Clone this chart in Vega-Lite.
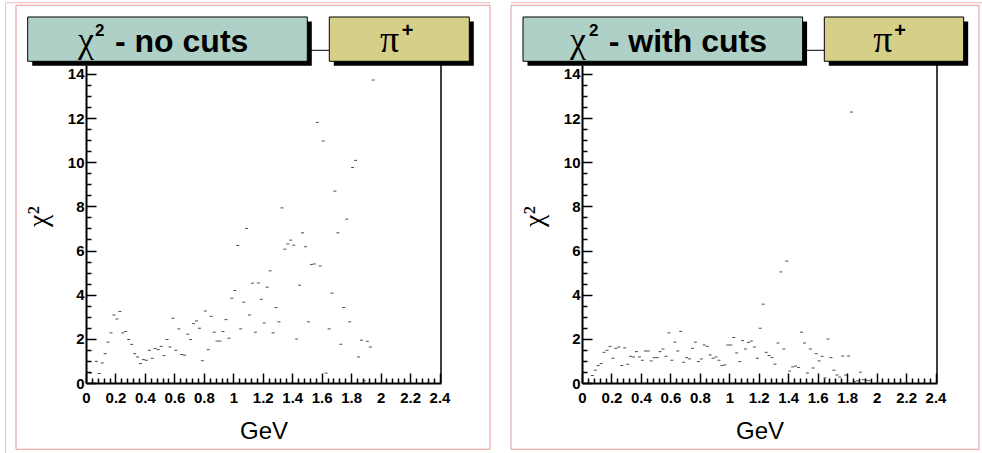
{
  "$schema": "https://vega.github.io/schema/vega-lite/v6.json",
  "background": "white",
  "padding": {"left": 5, "top": 2, "right": 0, "bottom": 0},
  "spacing": 19,
  "config": {
    "view": {"stroke": null},
    "axis": {"labelFont": "Liberation Sans", "labelFontWeight": "bold", "labelFontSize": 15, "labelColor": "#000", "domainColor": "#000", "domainWidth": 2, "tickColor": "#000", "tickWidth": 1.5, "grid": false, "labelOverlap": false, "labelFlush": false, "titleFont": "Liberation Sans", "titleFontWeight": "normal", "titleColor": "#000"},
    "tick": {"color": "#000", "size": 3, "thickness": 1, "orient": "horizontal"}
  },
  "datasets": {
    "nocuts": [
      {"x":0.03,"chi2":0.45},{"x":0.07,"chi2":0.98},{"x":0.09,"chi2":0.43},{"x":0.11,"chi2":0.91},{"x":0.13,"chi2":1.33},{"x":0.15,"chi2":1.85},{"x":0.17,"chi2":2.27},{"x":0.19,"chi2":3.08},{"x":0.21,"chi2":2.90},{"x":0.23,"chi2":3.24},{"x":0.25,"chi2":2.27},{"x":0.27,"chi2":2.33},{"x":0.29,"chi2":1.97},{"x":0.31,"chi2":1.75},{"x":0.33,"chi2":1.33},{"x":0.35,"chi2":1.18},{"x":0.37,"chi2":0.88},{"x":0.39,"chi2":1.06},{"x":0.41,"chi2":1.03},{"x":0.43,"chi2":1.48},{"x":0.45,"chi2":1.12},{"x":0.47,"chi2":1.56},{"x":0.49,"chi2":1.51},{"x":0.51,"chi2":1.66},{"x":0.53,"chi2":1.24},{"x":0.55,"chi2":1.97},{"x":0.57,"chi2":1.63},{"x":0.59,"chi2":2.93},{"x":0.61,"chi2":1.48},{"x":0.63,"chi2":2.45},{"x":0.65,"chi2":1.29},{"x":0.67,"chi2":1.26},{"x":0.69,"chi2":2.21},{"x":0.71,"chi2":1.97},{"x":0.73,"chi2":2.69},{"x":0.75,"chi2":2.81},{"x":0.77,"chi2":2.48},{"x":0.79,"chi2":1.01},{"x":0.81,"chi2":3.26},{"x":0.83,"chi2":1.51},{"x":0.85,"chi2":3.02},{"x":0.87,"chi2":2.30},{"x":0.89,"chi2":1.90},{"x":0.91,"chi2":1.90},{"x":0.93,"chi2":2.33},{"x":0.95,"chi2":2.87},{"x":0.97,"chi2":2.03},{"x":0.99,"chi2":3.84},{"x":1.01,"chi2":4.19},{"x":1.03,"chi2":6.23},{"x":1.05,"chi2":2.45},{"x":1.07,"chi2":3.66},{"x":1.09,"chi2":7.00},{"x":1.11,"chi2":3.08},{"x":1.13,"chi2":4.52},{"x":1.15,"chi2":2.30},{"x":1.17,"chi2":4.53},{"x":1.19,"chi2":3.79},{"x":1.21,"chi2":2.72},{"x":1.23,"chi2":4.34},{"x":1.25,"chi2":5.08},{"x":1.27,"chi2":2.27},{"x":1.29,"chi2":3.42},{"x":1.31,"chi2":2.77},{"x":1.33,"chi2":7.93},{"x":1.35,"chi2":6.06},{"x":1.37,"chi2":6.30},{"x":1.39,"chi2":6.47},{"x":1.41,"chi2":6.24},{"x":1.43,"chi2":1.99},{"x":1.45,"chi2":4.43},{"x":1.47,"chi2":6.80},{"x":1.49,"chi2":6.17},{"x":1.51,"chi2":2.77},{"x":1.53,"chi2":5.37},{"x":1.55,"chi2":5.39},{"x":1.57,"chi2":11.80},{"x":1.59,"chi2":5.30},{"x":1.61,"chi2":10.96},{"x":1.63,"chi2":0.45},{"x":1.65,"chi2":2.45},{"x":1.67,"chi2":4.07},{"x":1.69,"chi2":8.69},{"x":1.71,"chi2":6.80},{"x":1.73,"chi2":1.75},{"x":1.75,"chi2":3.42},{"x":1.77,"chi2":7.42},{"x":1.79,"chi2":2.77},{"x":1.81,"chi2":9.76},{"x":1.83,"chi2":10.08},{"x":1.85,"chi2":1.18},{"x":1.87,"chi2":1.94},{"x":1.89,"chi2":0.10},{"x":1.91,"chi2":1.89},{"x":1.93,"chi2":1.63},{"x":1.95,"chi2":13.72}
    ],
    "withcuts": [
      {"x":0.07,"chi2":0.34},{"x":0.09,"chi2":0.58},{"x":0.11,"chi2":0.79},{"x":0.13,"chi2":0.88},{"x":0.15,"chi2":1.39},{"x":0.17,"chi2":1.48},{"x":0.19,"chi2":1.66},{"x":0.21,"chi2":1.12},{"x":0.23,"chi2":1.57},{"x":0.25,"chi2":1.63},{"x":0.27,"chi2":0.79},{"x":0.29,"chi2":1.59},{"x":0.31,"chi2":0.85},{"x":0.33,"chi2":1.21},{"x":0.35,"chi2":1.18},{"x":0.37,"chi2":1.42},{"x":0.39,"chi2":1.18},{"x":0.41,"chi2":1.03},{"x":0.43,"chi2":1.45},{"x":0.45,"chi2":1.45},{"x":0.47,"chi2":1.00},{"x":0.49,"chi2":1.15},{"x":0.51,"chi2":1.15},{"x":0.53,"chi2":1.42},{"x":0.55,"chi2":1.54},{"x":0.57,"chi2":1.21},{"x":0.59,"chi2":2.27},{"x":0.61,"chi2":1.03},{"x":0.63,"chi2":1.85},{"x":0.65,"chi2":1.45},{"x":0.67,"chi2":2.34},{"x":0.69,"chi2":0.94},{"x":0.71,"chi2":1.15},{"x":0.73,"chi2":1.09},{"x":0.75,"chi2":1.57},{"x":0.77,"chi2":1.85},{"x":0.79,"chi2":0.97},{"x":0.81,"chi2":1.09},{"x":0.83,"chi2":1.72},{"x":0.85,"chi2":1.66},{"x":0.87,"chi2":1.27},{"x":0.89,"chi2":1.12},{"x":0.91,"chi2":1.18},{"x":0.93,"chi2":1.03},{"x":0.95,"chi2":0.79},{"x":0.97,"chi2":0.82},{"x":0.99,"chi2":1.72},{"x":1.01,"chi2":1.72},{"x":1.03,"chi2":2.06},{"x":1.05,"chi2":1.36},{"x":1.07,"chi2":0.97},{"x":1.09,"chi2":1.92},{"x":1.11,"chi2":1.54},{"x":1.13,"chi2":1.84},{"x":1.15,"chi2":1.90},{"x":1.17,"chi2":1.63},{"x":1.19,"chi2":1.12},{"x":1.21,"chi2":2.48},{"x":1.23,"chi2":3.57},{"x":1.25,"chi2":1.39},{"x":1.27,"chi2":1.24},{"x":1.29,"chi2":1.15},{"x":1.31,"chi2":0.85},{"x":1.33,"chi2":1.81},{"x":1.35,"chi2":5.03},{"x":1.37,"chi2":1.54},{"x":1.39,"chi2":5.52},{"x":1.41,"chi2":0.54},{"x":1.43,"chi2":0.73},{"x":1.45,"chi2":0.77},{"x":1.47,"chi2":0.70},{"x":1.49,"chi2":2.30},{"x":1.51,"chi2":1.81},{"x":1.53,"chi2":0.45},{"x":1.55,"chi2":1.54},{"x":1.57,"chi2":0.68},{"x":1.59,"chi2":1.33},{"x":1.61,"chi2":1.00},{"x":1.63,"chi2":1.21},{"x":1.65,"chi2":0.23},{"x":1.67,"chi2":1.99},{"x":1.69,"chi2":1.15},{"x":1.71,"chi2":0.58},{"x":1.73,"chi2":0.36},{"x":1.75,"chi2":0.27},{"x":1.77,"chi2":1.22},{"x":1.79,"chi2":0.36},{"x":1.81,"chi2":1.22},{"x":1.83,"chi2":12.27},{"x":1.85,"chi2":0.06},{"x":1.87,"chi2":0.10},{"x":1.89,"chi2":0.49},{"x":1.91,"chi2":0.15},{"x":1.93,"chi2":0.12},{"x":1.95,"chi2":0.11}
    ]
  },
  "hconcat": [
    {
      "width": 355, "height": 318,
      "resolve": {"axis": {"x": "independent", "y": "independent"}},
      "layer": [
        {"data": {"values": [{}]}, "mark": {"type": "rule", "color": "#ecbcbc", "strokeWidth": 1},
         "encoding": {"x": {"datum": -0.5458, "type": "quantitative", "scale": {"domain": [0, 2.41], "nice": false, "zero": false}, "axis": null}, "y": {"datum": 17.22, "type": "quantitative", "scale": {"domain": [0, 14.4], "nice": false, "zero": false}, "axis": null}, "y2": {"datum": -3.17}}},
        {"data": {"values": [{}]}, "mark": {"type": "rule", "color": "#ecbcbc", "strokeWidth": 1},
         "encoding": {"x": {"datum": -0.5458, "type": "quantitative", "scale": {"domain": [0, 2.41], "nice": false, "zero": false}, "axis": null}, "x2": {"datum": 2.7427}, "y": {"datum": 17.22, "type": "quantitative", "scale": {"domain": [0, 14.4], "nice": false, "zero": false}, "axis": null}}},
        {"data": {"values": [{}]}, "mark": {"type": "rect", "filled": false, "stroke": "#e39a9a", "strokeWidth": 1},
         "encoding": {
           "x": {"datum": -0.4752, "type": "quantitative", "scale": {"domain": [0, 2.41], "nice": false, "zero": false},
                 "axis": {"orient": "bottom", "values": [0.04,0.08,0.12,0.16,0.24,0.28,0.32,0.36,0.44,0.48,0.52,0.56,0.64,0.68,0.72,0.76,0.84,0.88,0.92,0.96,1.04,1.08,1.12,1.16,1.24,1.28,1.32,1.36,1.44,1.48,1.52,1.56,1.64,1.68,1.72,1.76,1.84,1.88,1.92,1.96,2.04,2.08,2.12,2.16,2.24,2.28,2.32,2.36], "tickSize": -5, "labels": false, "domain": false, "title": null}},
           "x2": {"datum": 2.7427},
           "y": {"datum": 17.104, "type": "quantitative", "scale": {"domain": [0, 14.4], "nice": false, "zero": false},
                 "axis": {"orient": "left", "values": [0.5,1,1.5,2.5,3,3.5,4.5,5,5.5,6.5,7,7.5,8.5,9,9.5,10.5,11,11.5,12.5,13,13.5], "tickSize": -5, "labels": false, "domain": false, "title": null}},
           "y2": {"datum": -3.002}}},
        {"data": {"values": [{}]}, "mark": {"type": "rect", "fill": "#000"},
         "encoding": {"x": {"datum": -0.3652, "type": "quantitative", "scale": {"domain": [0, 2.41], "nice": false, "zero": false}, "axis": null}, "x2": {"datum": 1.5329}, "y": {"datum": 16.37, "type": "quantitative", "scale": {"domain": [0, 14.4], "nice": false, "zero": false}, "axis": null}, "y2": {"datum": 14.364}}},
        {"data": {"values": [{}]}, "mark": {"type": "rect", "fill": "#000"},
         "encoding": {"x": {"datum": 1.6823, "type": "quantitative", "scale": {"domain": [0, 2.41], "nice": false, "zero": false}, "axis": null}, "x2": {"datum": 2.6327}, "y": {"datum": 16.37, "type": "quantitative", "scale": {"domain": [0, 14.4], "nice": false, "zero": false}, "axis": null}, "y2": {"datum": 14.364}}},
        {"data": {"values": [{}]}, "mark": {"type": "rule", "color": "#000", "strokeWidth": 1.5},
         "encoding": {"x": {"datum": 2.41, "type": "quantitative", "scale": {"domain": [0, 2.41], "nice": false, "zero": false}, "axis": null}, "y": {"datum": 0, "type": "quantitative", "scale": {"domain": [0, 14.4], "nice": false, "zero": false}, "axis": null}, "y2": {"datum": 14.568}}},
        {"data": {"values": [{}]}, "mark": {"type": "rule", "color": "#000", "strokeWidth": 1},
         "encoding": {"x": {"datum": 1.5024, "type": "quantitative", "scale": {"domain": [0, 2.41], "nice": false, "zero": false}, "axis": null}, "x2": {"datum": 1.6517}, "y": {"datum": 15.066, "type": "quantitative", "scale": {"domain": [0, 14.4], "nice": false, "zero": false}, "axis": null}}},
        {"data": {"values": [{}]}, "mark": {"type": "rect", "fill": "#afd0c6", "stroke": "#000", "strokeWidth": 1},
         "encoding": {"x": {"datum": -0.3958, "type": "quantitative", "scale": {"domain": [0, 2.41], "nice": false, "zero": false}, "axis": null}, "x2": {"datum": 1.5024}, "y": {"datum": 16.574, "type": "quantitative", "scale": {"domain": [0, 14.4], "nice": false, "zero": false}, "axis": null}, "y2": {"datum": 14.568}}},
        {"data": {"values": [{}]}, "mark": {"type": "rect", "fill": "#d6cf88", "stroke": "#000", "strokeWidth": 1},
         "encoding": {"x": {"datum": 1.6517, "type": "quantitative", "scale": {"domain": [0, 2.41], "nice": false, "zero": false}, "axis": null}, "x2": {"datum": 2.6021}, "y": {"datum": 16.574, "type": "quantitative", "scale": {"domain": [0, 14.4], "nice": false, "zero": false}, "axis": null}, "y2": {"datum": 14.568}}},
        {"data": {"values": [{}]}, "mark": {"type": "text", "text": "χ", "font": "Liberation Serif", "fontSize": 36, "align": "left", "baseline": "alphabetic", "color": "#000"},
         "encoding": {"x": {"datum": -0.0543, "type": "quantitative", "scale": {"domain": [0, 2.41], "nice": false, "zero": false}, "axis": null}, "y": {"datum": 14.976, "type": "quantitative", "scale": {"domain": [0, 14.4], "nice": false, "zero": false}, "axis": null}}},
        {"data": {"values": [{}]}, "mark": {"type": "text", "text": "2", "font": "Liberation Sans", "fontWeight": "bold", "fontSize": 17, "align": "left", "baseline": "alphabetic", "color": "#000"},
         "encoding": {"x": {"datum": 0.0611, "type": "quantitative", "scale": {"domain": [0, 2.41], "nice": false, "zero": false}, "axis": null}, "y": {"datum": 15.70, "type": "quantitative", "scale": {"domain": [0, 14.4], "nice": false, "zero": false}, "axis": null}}},
        {"data": {"values": [{}]}, "mark": {"type": "text", "text": "- no cuts", "font": "Liberation Sans", "fontWeight": "bold", "fontSize": 32, "align": "left", "baseline": "alphabetic", "color": "#000"},
         "encoding": {"x": {"datum": 0.1969, "type": "quantitative", "scale": {"domain": [0, 2.41], "nice": false, "zero": false}, "axis": null}, "y": {"datum": 14.989, "type": "quantitative", "scale": {"domain": [0, 14.4], "nice": false, "zero": false}, "axis": null}}},
        {"data": {"values": [{}]}, "mark": {"type": "text", "text": "π", "font": "Liberation Serif", "fontSize": 38, "align": "left", "baseline": "alphabetic", "color": "#000"},
         "encoding": {"x": {"datum": 1.9959, "type": "quantitative", "scale": {"domain": [0, 2.41], "nice": false, "zero": false}, "axis": null}, "y": {"datum": 14.989, "type": "quantitative", "scale": {"domain": [0, 14.4], "nice": false, "zero": false}, "axis": null}}},
        {"data": {"values": [{}]}, "mark": {"type": "text", "text": "+", "font": "Liberation Sans", "fontWeight": "bold", "fontSize": 20, "align": "left", "baseline": "alphabetic", "color": "#000"},
         "encoding": {"x": {"datum": 2.1432, "type": "quantitative", "scale": {"domain": [0, 2.41], "nice": false, "zero": false}, "axis": null}, "y": {"datum": 15.655, "type": "quantitative", "scale": {"domain": [0, 14.4], "nice": false, "zero": false}, "axis": null}}},
        {"data": {"name": "nocuts"}, "mark": {"type": "tick"},
         "encoding": {
           "x": {"field": "x", "type": "quantitative", "scale": {"domain": [0, 2.41], "nice": false, "zero": false},
                 "axis": {"orient": "bottom", "values": [0,0.2,0.4,0.6,0.8,1,1.2,1.4,1.6,1.8,2,2.2,2.4], "tickSize": -10, "labelPadding": 17, "labelExpr": "format(datum.value, '~g')", "title": "GeV", "titleFontSize": 24, "titleY": 55, "titleBaseline": "alphabetic"}},
           "y": {"field": "chi2", "type": "quantitative", "scale": {"domain": [0, 14.4], "nice": false, "zero": false},
                 "axis": {"orient": "left", "values": [0,2,4,6,8,10,12,14], "tickSize": -10, "labelPadding": 12, "labelExpr": "format(datum.value, '~g')", "title": "χ²", "titleFont": "Liberation Serif", "titleFontSize": 28, "titleAngle": 270, "titleX": -40, "titleY": 151, "titleBaseline": "alphabetic", "titleAlign": "center"}}}}
      ]
    },
    {
      "width": 355, "height": 318,
      "resolve": {"axis": {"x": "independent", "y": "independent"}},
      "layer": [
        {"data": {"values": [{}]}, "mark": {"type": "rule", "color": "#ecbcbc", "strokeWidth": 1},
         "encoding": {"x": {"datum": -0.482, "type": "quantitative", "scale": {"domain": [0, 2.41], "nice": false, "zero": false}, "axis": null}, "x2": {"datum": 2.716}, "y": {"datum": 17.22, "type": "quantitative", "scale": {"domain": [0, 14.4], "nice": false, "zero": false}, "axis": null}}},
        {"data": {"values": [{}]}, "mark": {"type": "rect", "filled": false, "stroke": "#e39a9a", "strokeWidth": 1},
         "encoding": {
           "x": {"datum": -0.482, "type": "quantitative", "scale": {"domain": [0, 2.41], "nice": false, "zero": false},
                 "axis": {"orient": "bottom", "values": [0.04,0.08,0.12,0.16,0.24,0.28,0.32,0.36,0.44,0.48,0.52,0.56,0.64,0.68,0.72,0.76,0.84,0.88,0.92,0.96,1.04,1.08,1.12,1.16,1.24,1.28,1.32,1.36,1.44,1.48,1.52,1.56,1.64,1.68,1.72,1.76,1.84,1.88,1.92,1.96,2.04,2.08,2.12,2.16,2.24,2.28,2.32,2.36], "tickSize": -5, "labels": false, "domain": false, "title": null}},
           "x2": {"datum": 2.695},
           "y": {"datum": 17.104, "type": "quantitative", "scale": {"domain": [0, 14.4], "nice": false, "zero": false},
                 "axis": {"orient": "left", "values": [0.5,1,1.5,2.5,3,3.5,4.5,5,5.5,6.5,7,7.5,8.5,9,9.5,10.5,11,11.5,12.5,13,13.5], "tickSize": -5, "labels": false, "domain": false, "title": null}},
           "y2": {"datum": -3.002}}},
        {"data": {"values": [{}]}, "mark": {"type": "rect", "fill": "#000"},
         "encoding": {"x": {"datum": -0.37, "type": "quantitative", "scale": {"domain": [0, 2.41], "nice": false, "zero": false}, "axis": null}, "x2": {"datum": 1.528}, "y": {"datum": 16.37, "type": "quantitative", "scale": {"domain": [0, 14.4], "nice": false, "zero": false}, "axis": null}, "y2": {"datum": 14.364}}},
        {"data": {"values": [{}]}, "mark": {"type": "rect", "fill": "#000"},
         "encoding": {"x": {"datum": 1.6755, "type": "quantitative", "scale": {"domain": [0, 2.41], "nice": false, "zero": false}, "axis": null}, "x2": {"datum": 2.6216}, "y": {"datum": 16.37, "type": "quantitative", "scale": {"domain": [0, 14.4], "nice": false, "zero": false}, "axis": null}, "y2": {"datum": 14.364}}},
        {"data": {"values": [{}]}, "mark": {"type": "rule", "color": "#000", "strokeWidth": 1.5},
         "encoding": {"x": {"datum": 2.41, "type": "quantitative", "scale": {"domain": [0, 2.41], "nice": false, "zero": false}, "axis": null}, "y": {"datum": 0, "type": "quantitative", "scale": {"domain": [0, 14.4], "nice": false, "zero": false}, "axis": null}, "y2": {"datum": 14.568}}},
        {"data": {"values": [{}]}, "mark": {"type": "rule", "color": "#000", "strokeWidth": 1},
         "encoding": {"x": {"datum": 1.4976, "type": "quantitative", "scale": {"domain": [0, 2.41], "nice": false, "zero": false}, "axis": null}, "x2": {"datum": 1.645}, "y": {"datum": 15.066, "type": "quantitative", "scale": {"domain": [0, 14.4], "nice": false, "zero": false}, "axis": null}}},
        {"data": {"values": [{}]}, "mark": {"type": "rect", "fill": "#afd0c6", "stroke": "#000", "strokeWidth": 1},
         "encoding": {"x": {"datum": -0.4005, "type": "quantitative", "scale": {"domain": [0, 2.41], "nice": false, "zero": false}, "axis": null}, "x2": {"datum": 1.4976}, "y": {"datum": 16.574, "type": "quantitative", "scale": {"domain": [0, 14.4], "nice": false, "zero": false}, "axis": null}, "y2": {"datum": 14.568}}},
        {"data": {"values": [{}]}, "mark": {"type": "rect", "fill": "#d6cf88", "stroke": "#000", "strokeWidth": 1},
         "encoding": {"x": {"datum": 1.645, "type": "quantitative", "scale": {"domain": [0, 2.41], "nice": false, "zero": false}, "axis": null}, "x2": {"datum": 2.591}, "y": {"datum": 16.574, "type": "quantitative", "scale": {"domain": [0, 14.4], "nice": false, "zero": false}, "axis": null}, "y2": {"datum": 14.568}}},
        {"data": {"values": [{}]}, "mark": {"type": "text", "text": "χ", "font": "Liberation Serif", "fontSize": 36, "align": "left", "baseline": "alphabetic", "color": "#000"},
         "encoding": {"x": {"datum": -0.0815, "type": "quantitative", "scale": {"domain": [0, 2.41], "nice": false, "zero": false}, "axis": null}, "y": {"datum": 14.976, "type": "quantitative", "scale": {"domain": [0, 14.4], "nice": false, "zero": false}, "axis": null}}},
        {"data": {"values": [{}]}, "mark": {"type": "text", "text": "2", "font": "Liberation Sans", "fontWeight": "bold", "fontSize": 17, "align": "left", "baseline": "alphabetic", "color": "#000"},
         "encoding": {"x": {"datum": 0.0475, "type": "quantitative", "scale": {"domain": [0, 2.41], "nice": false, "zero": false}, "axis": null}, "y": {"datum": 15.70, "type": "quantitative", "scale": {"domain": [0, 14.4], "nice": false, "zero": false}, "axis": null}}},
        {"data": {"values": [{}]}, "mark": {"type": "text", "text": "- with cuts", "font": "Liberation Sans", "fontWeight": "bold", "fontSize": 32, "align": "left", "baseline": "alphabetic", "color": "#000"},
         "encoding": {"x": {"datum": 0.1813, "type": "quantitative", "scale": {"domain": [0, 2.41], "nice": false, "zero": false}, "axis": null}, "y": {"datum": 14.989, "type": "quantitative", "scale": {"domain": [0, 14.4], "nice": false, "zero": false}, "axis": null}}},
        {"data": {"values": [{}]}, "mark": {"type": "text", "text": "π", "font": "Liberation Serif", "fontSize": 38, "align": "left", "baseline": "alphabetic", "color": "#000"},
         "encoding": {"x": {"datum": 1.9776, "type": "quantitative", "scale": {"domain": [0, 2.41], "nice": false, "zero": false}, "axis": null}, "y": {"datum": 14.989, "type": "quantitative", "scale": {"domain": [0, 14.4], "nice": false, "zero": false}, "axis": null}}},
        {"data": {"values": [{}]}, "mark": {"type": "text", "text": "+", "font": "Liberation Sans", "fontWeight": "bold", "fontSize": 20, "align": "left", "baseline": "alphabetic", "color": "#000"},
         "encoding": {"x": {"datum": 2.1202, "type": "quantitative", "scale": {"domain": [0, 2.41], "nice": false, "zero": false}, "axis": null}, "y": {"datum": 15.655, "type": "quantitative", "scale": {"domain": [0, 14.4], "nice": false, "zero": false}, "axis": null}}},
        {"data": {"name": "withcuts"}, "mark": {"type": "tick"},
         "encoding": {
           "x": {"field": "x", "type": "quantitative", "scale": {"domain": [0, 2.41], "nice": false, "zero": false},
                 "axis": {"orient": "bottom", "values": [0,0.2,0.4,0.6,0.8,1,1.2,1.4,1.6,1.8,2,2.2,2.4], "tickSize": -10, "labelPadding": 17, "labelExpr": "format(datum.value, '~g')", "title": "GeV", "titleFontSize": 24, "titleY": 55, "titleBaseline": "alphabetic"}},
           "y": {"field": "chi2", "type": "quantitative", "scale": {"domain": [0, 14.4], "nice": false, "zero": false},
                 "axis": {"orient": "left", "values": [0,2,4,6,8,10,12,14], "tickSize": -10, "labelPadding": 12, "labelExpr": "format(datum.value, '~g')", "title": "χ²", "titleFont": "Liberation Serif", "titleFontSize": 28, "titleAngle": 270, "titleX": -40, "titleY": 151, "titleBaseline": "alphabetic", "titleAlign": "center"}}}}
      ]
    }
  ]
}
